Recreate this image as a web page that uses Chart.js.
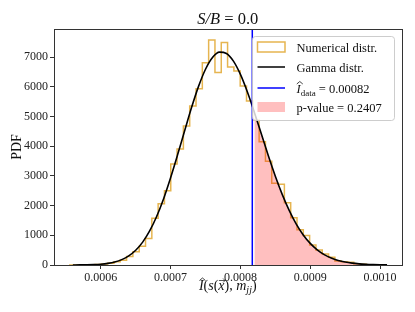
<!DOCTYPE html>
<html>
<head>
<meta charset="utf-8">
<script src="https://cdn.jsdelivr.net/npm/chart.js@4"></script>
<style>
  body { margin: 0; background: #fff; }
  #wrap { width: 415px; height: 312px; position: relative; }
</style>
</head>
<body>
<div id="wrap"><canvas id="gammaChart"></canvas></div>
<script>
// histogram of the numerical distribution (bin edges + heights)
const binEdges = [
  0.00055560, 0.00056464, 0.00057368, 0.00058272, 0.00059176, 0.00060080,
  0.00060984, 0.00061888, 0.00062792, 0.00063696, 0.00064600, 0.00065504,
  0.00066408, 0.00067312, 0.00068216, 0.00069120, 0.00070024, 0.00070928,
  0.00071832, 0.00072736, 0.00073640, 0.00074544, 0.00075448, 0.00076352,
  0.00077256, 0.00078160, 0.00079064, 0.00079968, 0.00080872, 0.00081776,
  0.00082680, 0.00083584, 0.00084488, 0.00085392, 0.00086296, 0.00087200,
  0.00088104, 0.00089008, 0.00089912, 0.00090816, 0.00091720, 0.00092624,
  0.00093528, 0.00094432, 0.00095336, 0.00096240, 0.00097144, 0.00098048,
  0.00098952, 0.00099856, 0.00100760
];
const binHeights = [
  1, 2, 5, 10, 20, 32, 60, 110, 160, 290,
  448, 630, 895, 1572, 2060, 2500, 3400, 3910, 4680, 5354,
  5936, 6812, 7576, 6488, 7498, 6667, 6532, 6027, 5522, 4882,
  4152, 3495, 2750, 2720, 2100, 1590, 1190, 990, 673, 505,
  370, 258, 135, 112, 90, 45, 25, 12, 6, 3
];

// gamma distribution curve
const gammaX = [
  0.00056, 0.00057, 0.00058, 0.00059, 0.00060, 0.00061, 0.00062, 0.00063,
  0.00064, 0.00065, 0.00066, 0.00067, 0.00068, 0.00069, 0.00070, 0.00071,
  0.00072, 0.00073, 0.00074, 0.00075, 0.00076, 0.00077, 0.00078, 0.00079,
  0.00080, 0.00081, 0.00082, 0.00083, 0.00084, 0.00085, 0.00086, 0.00087,
  0.00088, 0.00089, 0.00090, 0.00091, 0.00092, 0.00093, 0.00094, 0.00095,
  0.00096, 0.00097, 0.00098, 0.00099, 0.00100, 0.00101
];
const gammaY = [
  1.1, 2.7, 6.1, 13.4, 27.8, 54.7, 102, 181,
  307, 496, 771, 1146, 1634, 2235, 2940, 3711,
  4513, 5305, 6017, 6595, 6990, 7170, 7125, 6866,
  6419, 5827, 5141, 4411, 3681, 2993, 2372, 1832,
  1379, 1013, 727, 510, 350, 234, 154, 99,
  62, 38, 23, 14, 8, 4.5
];

const iData = 0.000817;           // observed value (vertical line)
const iDataLabel = '0.00082';
const pValueLabel = '0.2407';
const sbLabel = '0.0';

const xTicks = [0.0006, 0.0007, 0.0008, 0.0009, 0.0010];
const yTicks = [0, 1000, 2000, 3000, 4000, 5000, 6000, 7000];
const xMin = 0.000533, xMax = 0.0010307;
const yMin = 0, yMax = 7950;

const SERIF = '"Liberation Serif", "DejaVu Serif", serif';
const HIST_COLOR = '#e6b550';
const FILL_COLOR = 'rgba(255, 0, 0, 0.25)';

// --- build datasets ---
const histPoints = [{ x: binEdges[0], y: 0 }];
binHeights.forEach((h, i) => histPoints.push({ x: binEdges[i], y: h }));
histPoints.push({ x: binEdges[binEdges.length - 1], y: binHeights[binHeights.length - 1] });
histPoints.push({ x: binEdges[binEdges.length - 1], y: 0 });

const gammaPoints = gammaX.map((x, i) => ({ x: x, y: gammaY[i] }));
const tailPoints = gammaPoints.filter(p => p.x > iData);

// draw a list of text runs: {t, font, dy, hat, arrow}
function drawRuns(ctx, runs, x, y, align) {
    let total = 0;
    runs.forEach(r => { ctx.font = r.font; r.w = ctx.measureText(r.t).width; total += r.w; });
    let cx = align === 'center' ? x - total / 2 : x;
    runs.forEach(r => {
        ctx.font = r.font;
        ctx.fillText(r.t, cx, y + (r.dy || 0));
        if (r.hat) {
            const mx = cx + r.w / 2 + 1.2, top = y - r.hat;
            ctx.beginPath();
            ctx.moveTo(mx - 3, top + 2.5);
            ctx.lineTo(mx, top);
            ctx.lineTo(mx + 3, top + 2.5);
            ctx.lineWidth = 0.8;
            ctx.stroke();
        }
        if (r.arrow) {
            const top = y - r.arrow;
            ctx.beginPath();
            ctx.moveTo(cx + 0.5, top);
            ctx.lineTo(cx + r.w + 0.5, top);
            ctx.moveTo(cx + r.w - 1.5, top - 2);
            ctx.lineTo(cx + r.w + 0.5, top);
            ctx.lineTo(cx + r.w - 1.5, top + 2);
            ctx.lineWidth = 0.7;
            ctx.stroke();
        }
        cx += r.w;
    });
}

const decorPlugin = {
    id: 'decor',
    afterDraw(chart) {
        const ctx = chart.ctx;
        const a = chart.chartArea;
        ctx.save();

        // frame
        ctx.strokeStyle = '#333';
        ctx.lineWidth = 1;
        ctx.strokeRect(Math.round(a.left) + 0.5, Math.round(a.top) + 0.5,
                       Math.round(a.right - a.left), Math.round(a.bottom - a.top));

        ctx.fillStyle = '#111';
        ctx.strokeStyle = '#111';
        ctx.textBaseline = 'alphabetic';

        // title
        drawRuns(ctx, [
            { t: 'S/B', font: 'italic 16.5px ' + SERIF },
            { t: ' = ' + sbLabel, font: '16.5px ' + SERIF }
        ], (a.left + a.right) / 2, 24, 'center');

        // x label
        drawRuns(ctx, [
            { t: 'I', font: 'italic 14px ' + SERIF, hat: 12 },
            { t: '(', font: '14px ' + SERIF },
            { t: 's', font: 'italic 14px ' + SERIF },
            { t: '(', font: '14px ' + SERIF },
            { t: 'x', font: 'italic 14px ' + SERIF, arrow: 9.5 },
            { t: '), ', font: '14px ' + SERIF },
            { t: 'm', font: 'italic 14px ' + SERIF },
            { t: 'jj', font: 'italic 10px ' + SERIF, dy: 3 },
            { t: ')', font: '14px ' + SERIF }
        ], (a.left + a.right) / 2, 290, 'center');

        // y label
        ctx.save();
        ctx.translate(21, (a.top + a.bottom) / 2);
        ctx.rotate(-Math.PI / 2);
        ctx.font = '14px ' + SERIF;
        ctx.textAlign = 'center';
        ctx.fillText('PDF', 0, 0);
        ctx.restore();

        // legend
        const lx = 252, ly = 36, lw = 142, lh = 84;
        ctx.beginPath();
        ctx.roundRect(lx + 0.5, ly + 0.5, lw, lh, 3);
        ctx.fillStyle = 'rgba(255,255,255,0.8)';
        ctx.fill();
        ctx.strokeStyle = 'rgba(200,200,200,0.9)';
        ctx.lineWidth = 1;
        ctx.stroke();

        const hx0 = 257.5, hx1 = 285, tx = 296.5;
        const rows = [47, 67, 88, 107];

        ctx.strokeStyle = HIST_COLOR;
        ctx.lineWidth = 1.5;
        ctx.strokeRect(hx0, rows[0] - 5, hx1 - hx0, 10);

        ctx.strokeStyle = '#000';
        ctx.beginPath(); ctx.moveTo(hx0, rows[1]); ctx.lineTo(hx1, rows[1]); ctx.stroke();

        ctx.strokeStyle = '#0000ff';
        ctx.beginPath(); ctx.moveTo(hx0, rows[2]); ctx.lineTo(hx1, rows[2]); ctx.stroke();

        ctx.fillStyle = FILL_COLOR;
        ctx.fillRect(hx0, rows[3] - 5, hx1 - hx0, 10);

        ctx.fillStyle = '#111';
        ctx.strokeStyle = '#111';
        ctx.font = '12.5px ' + SERIF;
        ctx.fillText('Numerical distr.', tx, rows[0] + 4.5);
        ctx.fillText('Gamma distr.', tx, rows[1] + 4.5);
        drawRuns(ctx, [
            { t: 'I', font: 'italic 12.5px ' + SERIF, hat: 11 },
            { t: 'data', font: '9px ' + SERIF, dy: 3 },
            { t: ' = ' + iDataLabel, font: '12.5px ' + SERIF }
        ], tx, rows[2] + 4.5, 'left');
        ctx.fillText('p-value = ' + pValueLabel, tx, rows[3] + 4.5);

        ctx.restore();
    }
};

const ctx = document.getElementById('gammaChart').getContext('2d');
new Chart(ctx, {
    type: 'line',
    data: {
        datasets: [
            {
                label: 'Numerical distr.',
                data: histPoints,
                stepped: 'before',
                borderColor: HIST_COLOR,
                borderWidth: 1.5,
                pointRadius: 0,
                fill: false,
                order: 4
            },
            {
                label: 'p-value',
                data: tailPoints,
                cubicInterpolationMode: 'monotone',
                borderWidth: 0,
                borderColor: 'rgba(0,0,0,0)',
                backgroundColor: FILL_COLOR,
                pointRadius: 0,
                fill: 'origin',
                order: 3
            },
            {
                label: 'Gamma distr.',
                data: gammaPoints,
                cubicInterpolationMode: 'monotone',
                borderColor: '#000',
                borderWidth: 1.6,
                pointRadius: 0,
                fill: false,
                order: 2
            },
            {
                label: 'I_data',
                data: [{ x: iData, y: yMin }, { x: iData, y: yMax }],
                borderColor: '#0000ff',
                borderWidth: 1.5,
                pointRadius: 0,
                fill: false,
                order: 1
            }
        ]
    },
    options: {
        responsive: true,
        maintainAspectRatio: false,
        animation: false,
        layout: { padding: { top: 29, right: 13.5, left: 0, bottom: 0 } },
        plugins: {
            legend: { display: false },
            tooltip: { enabled: false }
        },
        scales: {
            x: {
                type: 'linear',
                min: xMin,
                max: xMax,
                afterBuildTicks: s => { s.ticks = xTicks.map(v => ({ value: v })); },
                afterFit: s => { s.height = 47; },
                ticks: {
                    color: '#222',
                    font: { family: SERIF, size: 12 },
                    padding: 2,
                    maxRotation: 0,
                    callback: v => v.toFixed(4)
                },
                grid: { drawOnChartArea: false, drawTicks: true, tickLength: 4, color: '#333' },
                border: { display: false }
            },
            y: {
                type: 'linear',
                min: yMin,
                max: yMax,
                afterBuildTicks: s => { s.ticks = yTicks.map(v => ({ value: v })); },
                afterFit: s => { s.width = 54; },
                ticks: {
                    color: '#222',
                    font: { family: SERIF, size: 12 },
                    padding: 2,
                    callback: v => String(v)
                },
                grid: { drawOnChartArea: false, drawTicks: true, tickLength: 4, color: '#333' },
                border: { display: false }
            }
        }
    },
    plugins: [decorPlugin]
});
</script>
</body>
</html>
